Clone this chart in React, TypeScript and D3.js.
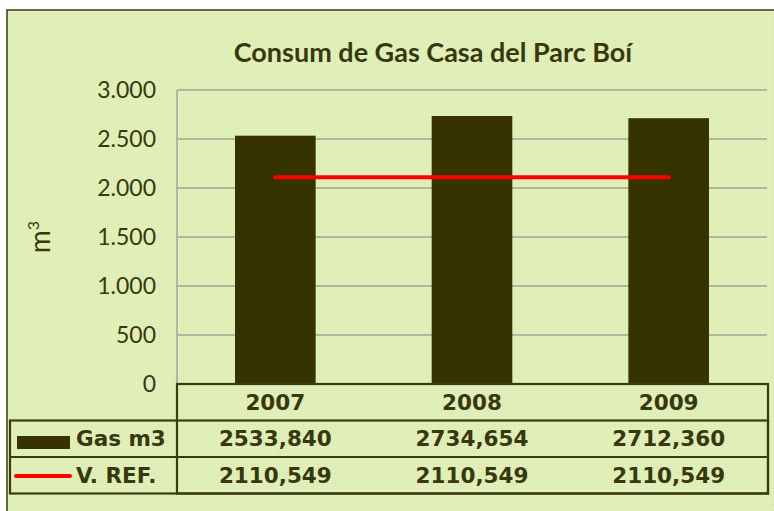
import React from 'react'
import { scaleBand, scaleLinear, formatLocale, line } from 'd3'

const categories = ['2007', '2008', '2009']
const gasValues = [2533.84, 2734.654, 2712.36]
const refValues = [2110.549, 2110.549, 2110.549]
const yTicks = [0, 500, 1000, 1500, 2000, 2500, 3000]
const seriesNames = ['Gas m3', 'V. REF.']

const ink = '#38380f'
const barColor = '#363300'
const frame = '#3b3b12'

const es = formatLocale({ decimal: ',', thousands: '.', grouping: [3], currency: ['', '€'] })
const tickFmt = es.format(',d')
const cellFmt = (v: number) => v.toFixed(3).replace('.', ',')

export default function App() {
  const left = 177
  const right = 767
  const top = 90
  const bottom = 384
  const rowH = 36.5

  const x = scaleBand<string>().domain(categories).range([left, right]).padding(0)
  const y = scaleLinear().domain([0, 3000]).range([bottom, top])
  const barW = x.bandwidth() * 0.41
  const cx = (c: string) => (x(c) as number) + x.bandwidth() / 2

  const refLine = line<number>()
    .x((d, i) => cx(categories[i]))
    .y(d => y(d))

  const tableRight = 768
  const row1 = bottom + rowH
  const row2 = row1 + rowH
  const row3 = row2 + rowH

  return (
    <svg width={774} height={511} style={{ position: 'absolute', left: 0, top: 0 }}>
      <defs>
        <pattern id="bg" width={2} height={2} patternUnits="userSpaceOnUse">
          <rect width={2} height={2} fill="#e8f3c6" />
          <rect x={1} width={1} height={1} fill="#d2e6a0" />
          <rect y={1} width={1} height={1} fill="#dcecb2" />
        </pattern>
      </defs>
      <rect width={774} height={511} fill="#fff" />
      <rect x={7} y={10} width={800} height={520} fill="url(#bg)" stroke={frame} strokeWidth={1.5} />

      <text x={433} y={62} textAnchor="middle" fontFamily="Lato" fontWeight="bold" fontSize={27} fill={ink}>
        Consum de Gas Casa del Parc Boí
      </text>

      {/* grid */}
      {yTicks.filter(t => t > 0).map(t => (
        <line key={t} x1={left} x2={right} y1={y(t)} y2={y(t)} stroke="#a3a596" strokeWidth={1.5} />
      ))}
      <line x1={left} x2={left} y1={top} y2={bottom} stroke="#a3a596" strokeWidth={1.5} />

      {yTicks.map(t => (
        <text key={t} x={156} y={y(t)} dy="0.35em" textAnchor="end" fontFamily="Lato" fontSize={23} fill={ink}>
          {tickFmt(t)}
        </text>
      ))}

      <text transform="translate(50,237) rotate(-90)" textAnchor="middle" fontFamily="Lato" fontSize={28} fill={ink}>
        m<tspan dy={-11} fontSize={16}>3</tspan>
      </text>

      {categories.map((c, i) => (
        <rect key={c} x={cx(c) - barW / 2} y={y(gasValues[i])} width={barW} height={bottom - y(gasValues[i])} fill={barColor} />
      ))}

      <path d={refLine(refValues) || ''} fill="none" stroke="#ff0000" strokeWidth={4} strokeLinecap="round" />

      {/* data table */}
      <g stroke={frame} strokeWidth={2.2} fill="none">
        <rect x={left} y={bottom} width={tableRight - left} height={row3 - bottom} />
        <rect x={10} y={row1} width={tableRight - 10} height={row3 - row1} />
        <line x1={10} x2={tableRight} y1={row2} y2={row2} />
      </g>

      {categories.map((c, i) => (
        <g key={c} fontFamily="DejaVu Sans" fontWeight="bold" fontSize={21.5} fill={ink} textAnchor="middle">
          <text x={cx(c)} y={(bottom + row1) / 2} dy="0.36em">{c}</text>
          <text x={cx(c)} y={(row1 + row2) / 2} dy="0.36em">{cellFmt(gasValues[i])}</text>
          <text x={cx(c)} y={(row2 + row3) / 2} dy="0.36em">{cellFmt(refValues[i])}</text>
        </g>
      ))}

      <rect x={17} y={436} width={53} height={13} fill={barColor} />
      <line x1={16} x2={70} y1={476} y2={476} stroke="#ff0000" strokeWidth={4} strokeLinecap="round" />
      <g fontFamily="DejaVu Sans" fontWeight="bold" fontSize={21.5} fill={ink}>
        <text x={76} y={(row1 + row2) / 2} dy="0.36em">{seriesNames[0]}</text>
        <text x={76} y={(row2 + row3) / 2} dy="0.36em">{seriesNames[1]}</text>
      </g>
    </svg>
  )
}
